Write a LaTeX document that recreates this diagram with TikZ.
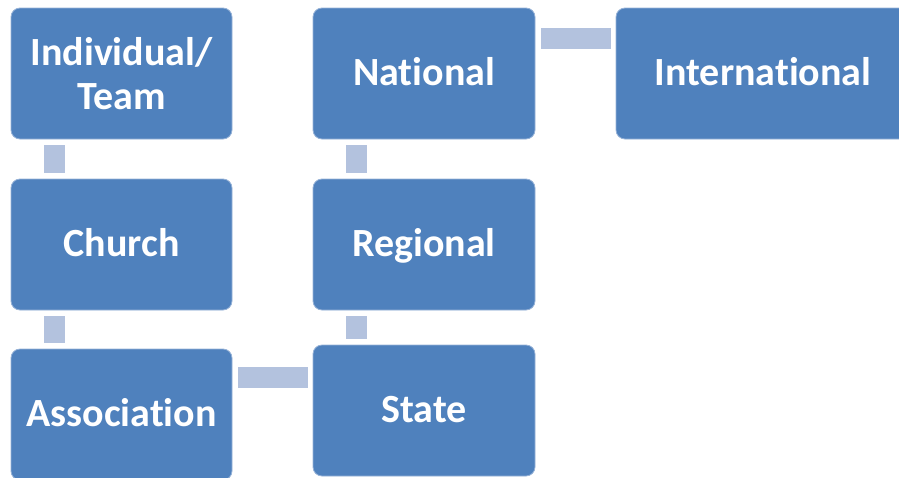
\documentclass[tikz,border=0pt]{standalone}
\usepackage{fontspec}
\setmainfont[Ligatures=NoCommon]{Carlito}
\definecolor{boxblue}{RGB}{79,129,189}
\definecolor{boxedge}{RGB}{150,178,215}
\definecolor{barblue}{RGB}{179,194,222}
\begin{document}
\begin{tikzpicture}
[x=1pt,y=1pt,
  boxdecorate/.style={shape=rectangle,rounded corners=9pt,fill=boxblue,draw=boxedge,
    line width=0.8pt,text=white,font=\fontsize{40}{44}\selectfont\bfseries,
    align=center,inner sep=0pt,minimum height=131pt},%
  linedecorate/.style={boxdecorate,text height=26pt,text depth=2pt},%
  bardecorate/.style={-,line width=21pt,draw=barblue}]
\useasboundingbox (0,0) rectangle (899,-477);
%% nodes or boxes
\node (indiv) at (121.5,-73.5) [boxdecorate,minimum width=221pt] {Individual/\\Team};
\foreach \nodename/\x/\y/\w/\boxtext in {
  church/121.5/-244.5/221/Church, assoc/121.5/-414.5/221/Association,
  national/424/-73.5/222/National, regional/424/-244.5/222/Regional,
  state/424/-410.5/222/State, intl/763/-73.5/294/International}
{
  \node (\nodename) at (\x,\y) [linedecorate,minimum width=\w pt] {\boxtext};
}
%% vertical bars
\foreach \startnode/\endnode in {indiv/church, church/assoc, national/regional, regional/state} {
  \draw[bardecorate] ([shift={(43.5pt,-6pt)}]\startnode.south west)
    -- ([shift={(43.5pt,5.5pt)}]\endnode.north west);
}
%% horizontal bars
\foreach \startnode/\endnode/\drop in {assoc/state/29, national/intl/31} {
  \coordinate (barstart) at ([shift={(6pt,-\drop pt)}]\startnode.north east);
  \draw[bardecorate] (barstart) -- ([xshift=-5pt]barstart -| \endnode.west);
}
\end{tikzpicture}
\end{document}
